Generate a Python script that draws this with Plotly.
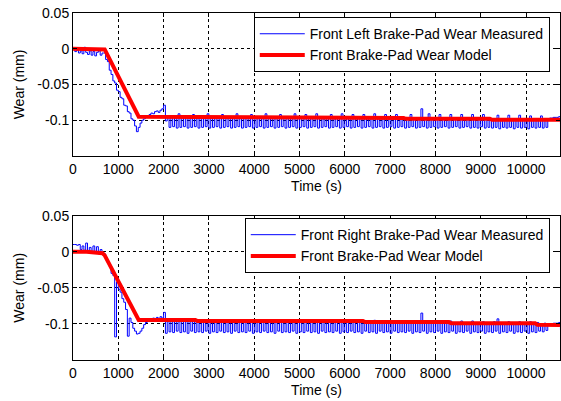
import plotly.graph_objects as go

# ---------------- data (wear values in 1e-3 mm) ----------------
time_s = list(range(0, 10761, 40))  # measurement sample times

fl_measured = [
    # 0..640
    -1, -4, -2, -6, -3, -7, 2, -5, -8, -3, -9, -4, -10, -5, -3, -9, -6,
    # 680..1440
    -6, -15, -18, -30, -36, -45, -48, -58, -60, -68, -70, -79, -80, -88, -90, -98, -100, -108, -116, -110,
    # 1480..2000
    -104, -100, -98, -95, -94, -92, -90, -91, -88, -87, -89, -86, -84, -79,
    # 2040..10760
    -101, -96, -110, -95, -109, -97, -111, -91, -110, -96,
    -109, -95, -111, -97, -110, -92, -109, -96, -111, -97,
    -110, -96, -109, -91, -111, -97, -110, -96, -109, -95,
    -111, -92, -110, -97, -109, -96, -111, -97, -110, -91,
    -109, -97, -111, -96, -110, -96, -109, -92, -111, -97,
    -110, -96, -109, -97, -111, -91, -110, -97, -109, -96,
    -111, -97, -110, -92, -109, -97, -111, -96, -110, -97,
    -109, -91, -111, -97, -110, -96, -109, -92, -111, -97,
    -110, -97, -109, -91, -111, -97, -110, -98, -109, -97,
    -111, -92, -110, -98, -109, -97, -111, -91, -110, -98,
    -109, -97, -111, -92, -110, -98, -109, -97, -111, -92,
    -110, -98, -109, -97, -111, -91, -110, -98, -109, -97,
    -111, -92, -110, -98, -109, -97, -111, -92, -110, -98,
    -109, -97, -111, -98, -110, -92, -109, -97, -111, -97,
    -110, -84, -109, -98, -111, -91, -110, -98, -109, -99,
    -111, -92, -110, -98, -109, -99, -111, -92, -110, -98,
    -109, -99, -111, -92, -110, -98, -109, -99, -111, -92,
    -110, -98, -111, -99, -109, -92, -111, -98, -110, -99,
    -111, -100, -110, -93, -112, -99, -110, -100, -111, -93,
    -110, -100, -112, -99, -110, -93, -111, -100, -110, -99,
    -112, -94, -110, -100, -111, -99, -110, -94, -111, -100,
    -110, -99, -97, -97, -96, -96, -96, -95, -105,
]

fr_measured = [
    # 0..680
    10, 10, 9, 10, 3, 8, 2, 12, 1, 6, -1, 8, 0, 7, -3, 3, -4, -3,
    # 720..1440
    -8, -15, -20, -30, -33, -118, -42, -52, -56, -65, -70, -80, -117, -92, -98, -106, -110, -114, -113,
    # 1480..2000
    -110, -106, -101, -98, -96, -94, -93, -92, -94, -91, -93, -90, -92, -84,
    # 2040..10760
    -113, -95, -111, -96, -112, -95, -110, -96, -112, -95,
    -111, -96, -113, -95, -110, -93, -112, -96, -111, -96,
    -112, -96, -110, -94, -113, -96, -111, -96, -112, -95,
    -110, -96, -112, -94, -111, -96, -113, -96, -110, -96,
    -112, -94, -111, -96, -112, -96, -110, -95, -113, -96,
    -111, -96, -112, -94, -110, -96, -112, -96, -111, -95,
    -113, -96, -110, -96, -112, -94, -111, -96, -112, -96,
    -110, -95, -113, -96, -111, -94, -112, -96, -110, -96,
    -112, -96, -111, -95, -113, -96, -110, -94, -112, -96,
    -111, -96, -112, -95, -110, -96, -113, -94, -111, -96,
    -112, -96, -110, -95, -112, -97, -111, -94, -113, -97,
    -110, -98, -112, -97, -111, -95, -113, -98, -110, -97,
    -112, -98, -111, -96, -113, -98, -110, -97, -112, -98,
    -111, -96, -112, -98, -110, -97, -113, -98, -111, -96,
    -112, -85, -110, -98, -113, -97, -111, -98, -112, -96,
    -110, -98, -113, -97, -111, -98, -112, -96, -110, -99,
    -113, -98, -111, -96, -112, -99, -110, -98, -113, -96,
    -111, -99, -112, -98, -110, -97, -113, -99, -111, -98,
    -112, -97, -110, -93, -113, -99, -111, -98, -112, -97,
    -110, -99, -113, -98, -111, -97, -112, -99, -110, -98,
    -113, -97, -111, -99, -112, -98, -110, -100, -111, -99,
    -109, -101, -100, -100, -99, -99, -99, -98, -108,
]

model_top_t = [0, 650, 700, 1450, 3500, 5400, 5450, 7300, 7350, 9200, 9250, 10750]
model_top_v = [0, 0, -1, -95, -95.5, -96, -97, -97, -98, -98, -99.5, -99.5]

model_bot_t = [0, 300, 650, 700, 1450, 2700, 2750, 6400, 6450, 8300, 8350, 10200, 10250, 10750]
model_bot_v = [0, 0, -2, -5, -94.5, -94.5, -96, -96, -97.5, -97.5, -99, -99, -101, -101.5]

x_ticks = [0, 1000, 2000, 3000, 4000, 5000, 6000, 7000, 8000, 9000, 10000]
y_ticks = [0.05, 0, -0.05, -0.1]
y_tick_labels = ["0.05", "0", "-0.05", "-0.1"]

# ---------------- figure ----------------
FONT = "Liberation Sans, Arial, sans-serif"
FS = 14
fig = go.Figure()

def mm(vals):
    return [v * 0.001 for v in vals]

fig.add_trace(go.Scatter(x=time_s, y=mm(fl_measured), mode="lines",
                         line=dict(color="#0000ff", width=1, shape="hv"),
                         name="Front Left Brake-Pad Wear Measured",
                         xaxis="x", yaxis="y", legend="legend"))
fig.add_trace(go.Scatter(x=model_top_t, y=mm(model_top_v), mode="lines",
                         line=dict(color="#ff0000", width=4),
                         name="Front Brake-Pad Wear Model",
                         xaxis="x", yaxis="y", legend="legend"))
fig.add_trace(go.Scatter(x=time_s, y=mm(fr_measured), mode="lines",
                         line=dict(color="#0000ff", width=1, shape="hv"),
                         name="Front Right Brake-Pad Wear Measured",
                         xaxis="x2", yaxis="y2", legend="legend2"))
fig.add_trace(go.Scatter(x=model_bot_t, y=mm(model_bot_v), mode="lines",
                         line=dict(color="#ff0000", width=4),
                         name="Front Brake-Pad Wear Model",
                         xaxis="x2", yaxis="y2", legend="legend2"))

xaxis_common = dict(
    range=[0, 10750], tickvals=x_ticks, ticktext=[str(v) for v in x_ticks],
    showgrid=True, gridcolor="#000000", griddash="dot", gridwidth=1,
    showline=True, linecolor="#000000", linewidth=1, mirror="allticks",
    ticks="inside", ticklen=4, tickcolor="#000000",
    zeroline=False, tickfont=dict(family=FONT, size=FS, color="#000000"),
    title=dict(text="Time (s)", font=dict(family=FONT, size=FS, color="#000000"), standoff=5),
)
yaxis_common = dict(
    range=[-0.15, 0.05], tickvals=y_ticks, ticktext=y_tick_labels,
    showgrid=True, gridcolor="#000000", griddash="dot", gridwidth=1,
    showline=True, linecolor="#000000", linewidth=1, mirror="allticks",
    ticks="inside", ticklen=4, tickcolor="#000000",
    zeroline=False, tickfont=dict(family=FONT, size=FS, color="#000000"),
    title=dict(text="Wear (mm)", font=dict(family=FONT, size=FS, color="#000000"), standoff=9),
)

legend_common = dict(
    xanchor="right", yanchor="top", x=0.979,
    bgcolor="#ffffff", bordercolor="#000000", borderwidth=1,
    font=dict(family=FONT, size=FS, color="#000000"),
    itemwidth=45, tracegroupgap=0,
)

fig.update_layout(
    width=561, height=401,
    margin=dict(l=73, r=1, t=13, b=41, autoexpand=False),
    paper_bgcolor="#ffffff", plot_bgcolor="#ffffff",
    xaxis=dict(domain=[0, 1], anchor="y", **xaxis_common),
    yaxis=dict(domain=[0.588, 1], anchor="x", **yaxis_common),
    xaxis2=dict(domain=[0, 1], anchor="y2", **xaxis_common),
    yaxis2=dict(domain=[0, 0.416], anchor="x2", **yaxis_common),
    legend=dict(y=0.988, **legend_common),
    legend2=dict(y=0.409, **legend_common),
    showlegend=True,
)

fig.write_html(
    "out.html",
    config={"displayModeBar": False},
    post_script="document.body.style.margin='0';document.body.style.overflow='hidden';",
)
